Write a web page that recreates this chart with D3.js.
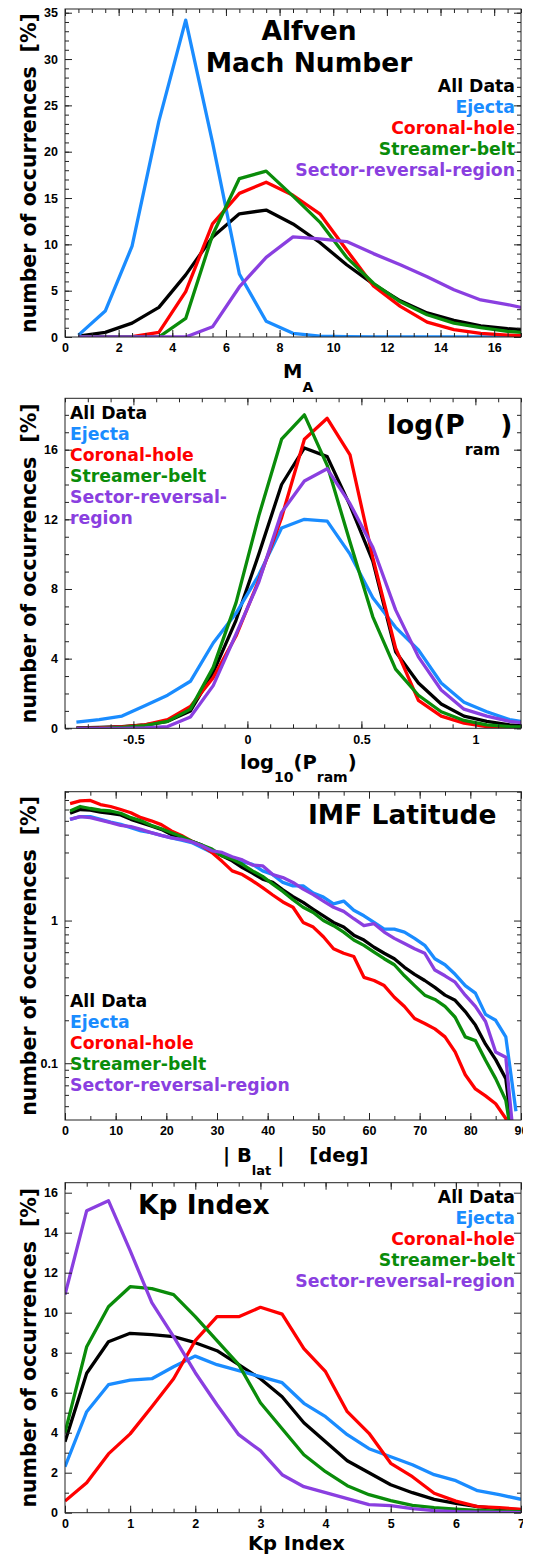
<!DOCTYPE html>
<html>
<head>
<meta charset="utf-8">
<script src="https://cdn.jsdelivr.net/npm/d3@7/dist/d3.min.js"></script>
<style>
  body { margin: 0; background: #fff; }
  svg { display: block; }
</style>
</head>
<body>
<svg id="chart" width="537" height="1558"></svg>
<script>
// ---- series shared by all four panels ----
const seriesNames  = ["All Data", "Ejecta", "Coronal-hole", "Streamer-belt", "Sector-reversal-region"];
const seriesColors = ["#000000", "#1a8cff", "#ff0000", "#0a8c0a", "#8a3fe0"];

// ---- Alfven Mach number distribution [%] ----
const machBins     = [0.5, 1.5, 2.5, 3.5, 4.5, 5.5, 6.5, 7.5, 8.5, 9.5, 10.5, 11.5, 12.5, 13.5, 14.5, 15.5, 16.5, 17.5];
const machAll      = [0.1, 0.5, 1.5, 3.2, 6.7, 10.8, 13.3, 13.7, 12.2, 10.2, 7.8, 5.7, 3.9, 2.6, 1.8, 1.2, 0.9, 0.7];
const machEjecta   = [0.2, 2.8, 9.8, 23.3, 34.2, 21.0, 6.8, 1.7, 0.4, 0.1, 0.05, 0.02, 0.01, 0, 0, 0, 0, 0];
const machCoronal  = [0, 0, 0.03, 0.5, 4.9, 12.2, 15.5, 16.7, 15.3, 13.3, 9.4, 5.5, 3.3, 1.6, 0.8, 0.4, 0.2, 0.1];
const machStreamer = [0, 0, 0, 0, 2.0, 11.0, 17.1, 17.9, 15.2, 12.4, 8.6, 5.8, 3.8, 2.4, 1.5, 1.0, 0.6, 0.4];
const machSector   = [0, 0, 0, 0, 0, 1.1, 5.4, 8.6, 10.8, 10.6, 10.3, 9.0, 7.8, 6.5, 5.1, 4.0, 3.5, 2.9];
const machXTicks   = [0, 2, 4, 6, 8, 10, 12, 14, 16];
const machYTicks   = [0, 5, 10, 15, 20, 25, 30, 35];

// ---- log10 of ram pressure distribution [%] ----
const pramBins     = [-0.75, -0.65, -0.55, -0.45, -0.35, -0.25, -0.15, -0.05, 0.05, 0.15, 0.25, 0.35, 0.45, 0.55, 0.65, 0.75, 0.85, 0.95, 1.05, 1.15, 1.25];
const pramAll      = [0.02, 0.05, 0.1, 0.2, 0.4, 1.0, 3.2, 6.2, 10.0, 14.0, 16.1, 15.6, 12.8, 9.6, 4.4, 2.6, 1.4, 0.7, 0.4, 0.2, 0.1];
const pramEjecta   = [0.35, 0.5, 0.7, 1.3, 1.9, 2.7, 4.9, 6.6, 8.8, 11.5, 12.0, 11.9, 10.0, 7.5, 5.8, 4.5, 2.6, 1.5, 0.95, 0.5, 0.3];
const pramCoronal  = [0, 0.02, 0.08, 0.2, 0.5, 1.25, 2.9, 5.3, 8.5, 12.1, 16.6, 17.8, 15.7, 9.8, 4.6, 1.6, 0.7, 0.3, 0.1, 0.05, 0.02];
const pramStreamer = [0, 0, 0.05, 0.15, 0.4, 1.1, 3.5, 7.2, 12.2, 16.6, 18.0, 15.1, 10.7, 6.4, 3.4, 1.9, 0.95, 0.45, 0.2, 0.1, 0.05];
const pramSector   = [0, 0, 0, 0.03, 0.1, 0.65, 2.45, 5.4, 8.4, 12.4, 14.2, 14.9, 12.9, 10.4, 6.8, 4.1, 2.2, 1.1, 0.7, 0.4, 0.25];
const pramXTicks   = [-0.5, 0, 0.5, 1];
const pramXLabels  = ["-0.5", "0", "0.5", "1"];
const pramYTicks   = [0, 4, 8, 12, 16];

// ---- |IMF latitude| distribution [%], 2-degree bins ----
const latBins     = [1, 3, 5, 7, 9, 11, 13, 15, 17, 19, 21, 23, 25, 27, 29, 31, 33, 35, 37, 39, 41, 43, 45, 47, 49, 51, 53, 55, 57, 59, 61, 63, 65, 67, 69, 71, 73, 75, 77, 79, 81, 83, 85, 87, 89];
const latAll      = [5.65, 6.0, 5.95, 5.75, 5.65, 5.5, 5.12, 4.85, 4.6, 4.36, 4.0, 3.8, 3.6, 3.38, 3.08, 2.84, 2.62, 2.35, 2.15, 1.95,
                     1.85, 1.64, 1.47, 1.34, 1.2, 1.08, 0.97, 0.9, 0.79, 0.73, 0.65, 0.59, 0.54, 0.47, 0.42, 0.38, 0.34, 0.30, 0.276, 0.23, 0.185, 0.136, 0.106, 0.078, 0.02];
const latEjecta   = [5.12, 5.35, 5.35, 5.12, 4.9, 4.72, 4.48, 4.25, 4.13, 3.95, 3.8, 3.66, 3.52, 3.25, 3.0, 2.92, 2.76, 2.58, 2.48, 2.23,
                     2.1, 1.85, 1.75, 1.75, 1.56, 1.46, 1.31, 1.37, 1.18, 1.08, 0.97, 0.87, 0.87, 0.83, 0.75, 0.67, 0.54, 0.49, 0.42, 0.35, 0.31, 0.22, 0.20, 0.153, 0.046];
const latCoronal  = [6.6, 6.9, 6.95, 6.5, 6.3, 6.0, 5.7, 5.26, 5.0, 4.7, 4.25, 3.95, 3.6, 3.34, 3.0, 2.6, 2.23, 2.1, 1.9, 1.7,
                     1.51, 1.35, 1.24, 0.97, 0.9, 0.77, 0.634, 0.59, 0.56, 0.40, 0.38, 0.35, 0.29, 0.25, 0.206, 0.19, 0.174, 0.153, 0.12, 0.083, 0.066, 0.059, 0.052, 0.041, 0.02];
const latStreamer = [5.86, 6.3, 6.1, 5.95, 5.86, 5.65, 5.26, 5.0, 4.65, 4.4, 4.13, 3.88, 3.6, 3.38, 3.17, 2.84, 2.69, 2.48, 2.23, 2.04,
                     1.8, 1.6, 1.4, 1.24, 1.14, 1.0, 0.92, 0.83, 0.73, 0.67, 0.60, 0.54, 0.49, 0.41, 0.35, 0.30, 0.28, 0.25, 0.21, 0.153, 0.144, 0.105, 0.078, 0.055, 0.02];
const latSector   = [5.12, 5.35, 5.26, 5.05, 4.85, 4.65, 4.55, 4.36, 4.13, 3.95, 3.8, 3.71, 3.56, 3.34, 3.08, 3.0, 2.8, 2.66, 2.45, 2.42,
                     2.1, 2.0, 1.85, 1.66, 1.52, 1.37, 1.24, 1.16, 1.03, 0.92, 0.95, 0.83, 0.75, 0.69, 0.634, 0.59, 0.45, 0.41, 0.37, 0.30, 0.25, 0.196, 0.12, 0.11, 0.02];
const latXTicks   = [0, 10, 20, 30, 40, 50, 60, 70, 80, 90];
const latYTicks   = [0.1, 1];
const latYLabels  = ["0.1", "1"];

// ---- Kp index distribution [%], steps of 1/3 ----
const kpBins     = [0, 0.333, 0.667, 1, 1.333, 1.667, 2, 2.333, 2.667, 3, 3.333, 3.667, 4, 4.333, 4.667, 5, 5.333, 5.667, 6, 6.333, 6.667, 7];
const kpAll      = [3.55, 6.97, 8.55, 8.97, 8.9, 8.8, 8.5, 8.1, 7.4, 6.7, 5.8, 4.5, 3.55, 2.6, 2.0, 1.4, 1.0, 0.67, 0.47, 0.3, 0.2, 0.15];
const kpEjecta   = [2.3, 5.05, 6.4, 6.63, 6.7, 7.3, 7.83, 7.4, 7.1, 6.8, 6.5, 5.47, 4.8, 3.9, 3.2, 2.8, 2.4, 1.9, 1.6, 1.1, 0.9, 0.67];
const kpCoronal  = [0.58, 1.5, 2.94, 3.94, 5.3, 6.7, 8.6, 9.8, 9.8, 10.27, 9.93, 8.2, 7.05, 5.05, 3.97, 2.47, 1.8, 0.97, 0.58, 0.3, 0.25, 0.17];
const kpStreamer = [4.0, 8.3, 10.3, 11.3, 11.2, 10.9, 9.8, 8.6, 7.4, 5.5, 4.2, 2.9, 2.05, 1.35, 0.9, 0.6, 0.37, 0.25, 0.18, 0.12, 0.08, 0.05];
const kpSector   = [10.9, 15.1, 15.6, 13.1, 10.5, 8.8, 7.0, 5.4, 3.9, 3.1, 1.9, 1.3, 1.0, 0.7, 0.4, 0.35, 0.2, 0.1, 0.05, 0.03, 0.02, 0];
const kpXTicks   = [0, 1, 2, 3, 4, 5, 6, 7];
const kpYTicks   = [0, 2, 4, 6, 8, 10, 12, 14, 16];

// ---- drawing ----
const TEXT_FONT = "'DejaVu Sans', Verdana, sans-serif";
const TICK_FONT = "'Liberation Sans', Arial, Helvetica, sans-serif";
const X0 = 65, X1 = 521;

const svg = d3.select("#chart");
const defs = svg.append("defs");
defs.append("clipPath").attr("id", "page-clip")
  .append("rect").attr("x", 0).attr("y", 0).attr("width", 523).attr("height", 1558);
const root = svg.append("g").attr("clip-path", "url(#page-clip)");

function styleAxis(sel) {
  sel.select(".domain").remove();
  sel.selectAll(".tick line").attr("stroke", "#222").attr("stroke-width", 1);
  sel.selectAll(".tick text")
    .attr("font-family", TICK_FONT).attr("font-weight", "bold")
    .attr("font-size", 12.5).attr("fill", "#000");
}

function drawPanel(p) {
  const g = root.append("g");
  const x = p.x, y = p.y;
  const top = y.range()[1], bottom = y.range()[0];

  defs.append("clipPath").attr("id", "clip-" + p.id)
    .append("rect").attr("x", X0).attr("y", top).attr("width", X1 - X0).attr("height", bottom - top);

  // distribution curves
  const line = d3.line().x((d, i) => x(p.bins[i])).y(d => y(d));
  g.append("g").attr("clip-path", "url(#clip-" + p.id + ")")
    .selectAll("path").data(p.series).join("path")
    .attr("d", d => line(d))
    .attr("fill", "none")
    .attr("stroke", (d, i) => seriesColors[i])
    .attr("stroke-width", 3.3)
    .attr("stroke-linejoin", "round");

  // inward ticks on all four sides
  const fmtX = p.xLabels ? (d, i) => p.xLabels[i] : d3.format("d");
  const fmtY = p.yLabels ? (d, i) => p.yLabels[i] : d3.format("d");
  g.append("g").attr("transform", `translate(0,${bottom})`)
    .call(d3.axisBottom(x).tickValues(p.xMinor).tickSize(-4).tickFormat("")).call(styleAxis);
  g.append("g").attr("transform", `translate(0,${bottom})`)
    .call(d3.axisBottom(x).tickValues(p.xTicks).tickSize(-7).tickPadding(6.5).tickFormat(fmtX)).call(styleAxis);
  g.append("g").attr("transform", `translate(0,${top})`)
    .call(d3.axisTop(x).tickValues(p.xMinor).tickSize(-4).tickFormat("")).call(styleAxis);
  g.append("g").attr("transform", `translate(0,${top})`)
    .call(d3.axisTop(x).tickValues(p.xTicks).tickSize(-7).tickFormat("")).call(styleAxis);
  g.append("g").attr("transform", `translate(${X0},0)`)
    .call(d3.axisLeft(y).tickValues(p.yMinor).tickSize(-4).tickFormat("")).call(styleAxis);
  g.append("g").attr("transform", `translate(${X0},0)`)
    .call(d3.axisLeft(y).tickValues(p.yTicks).tickSize(-7).tickPadding(7).tickFormat(fmtY)).call(styleAxis);
  g.append("g").attr("transform", `translate(${X1},0)`)
    .call(d3.axisRight(y).tickValues(p.yMinor).tickSize(-4).tickFormat("")).call(styleAxis);
  g.append("g").attr("transform", `translate(${X1},0)`)
    .call(d3.axisRight(y).tickValues(p.yTicks).tickSize(-7).tickFormat("")).call(styleAxis);

  // frame
  g.append("rect").attr("x", X0).attr("y", top).attr("width", X1 - X0).attr("height", bottom - top)
    .attr("fill", "none").attr("stroke", "#222").attr("stroke-width", 1);

  // y-axis label
  const yl = g.append("text")
    .attr("transform", `translate(35.5,${(top + bottom) / 2}) rotate(-90)`)
    .attr("text-anchor", "middle")
    .attr("font-family", TEXT_FONT).attr("font-weight", "bold").attr("font-size", 20.5).attr("fill", "#000");
  yl.append("tspan").text("number of occurrences");
  yl.append("tspan").attr("dx", 14).text("[%]");

  // legend
  const lg = g.append("g").attr("font-family", TEXT_FONT).attr("font-weight", "bold").attr("font-size", 17.3);
  p.legendLines.forEach((entry, k) => {
    lg.append("text")
      .attr("x", p.legendX).attr("y", p.legendY + k * 21)
      .attr("text-anchor", p.legendAnchor)
      .attr("fill", seriesColors[entry.c])
      .text(entry.t);
  });

  p.decorate(g, top, bottom);
}

function sub(textSel, main, subscript, mainSize, subSize, drop) {
  textSel.append("tspan").attr("font-size", mainSize).text(main);
  textSel.append("tspan").attr("font-size", subSize).attr("dy", drop).text(subscript);
}

const standardLegend = seriesNames.map((t, c) => ({ t, c }));

// Panel 1: Alfven Mach number
drawPanel({
  id: "mach",
  x: d3.scaleLinear().domain([0, 17]).range([X0, X1]),
  y: d3.scaleLinear().domain([0, 35.4]).range([337, 9]),
  bins: machBins,
  series: [machAll, machEjecta, machCoronal, machStreamer, machSector],
  xTicks: machXTicks, xMinor: d3.range(0, 17.01, 0.5),
  yTicks: machYTicks, yMinor: d3.range(0, 35.01, 1),
  legendLines: standardLegend, legendX: 515, legendY: 92, legendAnchor: "end",
  decorate(g, top, bottom) {
    const t = g.append("g").attr("font-family", TEXT_FONT).attr("font-weight", "bold")
      .attr("font-size", 26.5).attr("text-anchor", "middle").attr("fill", "#000");
    t.append("text").attr("x", 309).attr("y", 40).text("Alfven");
    t.append("text").attr("x", 309).attr("y", 71.5).text("Mach Number");
    const xt = g.append("text").attr("x", 283).attr("y", bottom + 41)
      .attr("font-family", TEXT_FONT).attr("font-weight", "bold").attr("fill", "#000");
    sub(xt, "M", "A", 19.5, 14, 14);
  }
});

// Panel 2: ram pressure
drawPanel({
  id: "pram",
  x: d3.scaleLinear().domain([-0.8, 1.2]).range([X0, X1]),
  y: d3.scaleLinear().domain([0, 18.95]).range([728.3, 398.3]),
  bins: pramBins,
  series: [pramAll, pramEjecta, pramCoronal, pramStreamer, pramSector],
  xTicks: pramXTicks, xLabels: pramXLabels, xMinor: d3.range(-0.8, 1.201, 0.1),
  yTicks: pramYTicks, yMinor: d3.range(0, 18.01, 1),
  legendLines: [
    { t: "All Data", c: 0 }, { t: "Ejecta", c: 1 }, { t: "Coronal-hole", c: 2 },
    { t: "Streamer-belt", c: 3 }, { t: "Sector-reversal-", c: 4 }, { t: "region", c: 4 }
  ],
  legendX: 70, legendY: 418.5, legendAnchor: "start",
  decorate(g, top, bottom) {
    const t = g.append("text").attr("x", 387).attr("y", 433.5)
      .attr("font-family", TEXT_FONT).attr("font-weight", "bold").attr("fill", "#000");
    t.append("tspan").attr("font-size", 26.5).text("log(P");
    t.append("tspan").attr("font-size", 16).attr("dy", 21).text("ram");
    t.append("tspan").attr("font-size", 26.5).attr("dy", -21).text(")");
    const xt = g.append("text").attr("x", 240).attr("y", bottom + 41)
      .attr("font-family", TEXT_FONT).attr("font-weight", "bold").attr("fill", "#000");
    xt.append("tspan").attr("font-size", 19.5).text("log");
    xt.append("tspan").attr("font-size", 14).attr("dy", 13).text("10");
    xt.append("tspan").attr("font-size", 19.5).attr("dy", -13).text("(P");
    xt.append("tspan").attr("font-size", 14).attr("dy", 13).text("ram");
    xt.append("tspan").attr("font-size", 19.5).attr("dy", -13).text(")");
  }
});

// Panel 3: IMF latitude (log scale)
drawPanel({
  id: "lat",
  x: d3.scaleLinear().domain([0, 90]).range([X0, X1]),
  y: d3.scaleLog().domain([0.04, 8]).range([1120, 791.7]),
  bins: latBins,
  series: [latAll, latEjecta, latCoronal, latStreamer, latSector],
  xTicks: latXTicks, xMinor: d3.range(0, 90.01, 5),
  yTicks: latYTicks, yLabels: latYLabels,
  yMinor: [0.05, 0.06, 0.07, 0.08, 0.09, 0.2, 0.3, 0.4, 0.5, 0.6, 0.7, 0.8, 0.9, 2, 3, 4, 5, 6, 7, 8],
  legendLines: standardLegend, legendX: 70, legendY: 1007, legendAnchor: "start",
  decorate(g, top, bottom) {
    g.append("text").attr("x", 308).attr("y", 823.5)
      .attr("font-family", TEXT_FONT).attr("font-weight", "bold").attr("font-size", 26.5)
      .attr("fill", "#000").text("IMF Latitude");
    const xt = g.append("text").attr("x", 223).attr("y", bottom + 41.5)
      .attr("font-family", TEXT_FONT).attr("font-weight", "bold").attr("fill", "#000");
    xt.append("tspan").attr("font-size", 19.5).text("| B");
    xt.append("tspan").attr("font-size", 13).attr("dy", 13).text("lat");
    xt.append("tspan").attr("font-size", 19.5).attr("dy", -13).attr("dx", 6).text("|");
    xt.append("tspan").attr("font-size", 19.5).attr("dx", 25).text("[deg]");
  }
});

// Panel 4: Kp index
drawPanel({
  id: "kp",
  x: d3.scaleLinear().domain([0, 7]).range([X0, X1]),
  y: d3.scaleLinear().domain([0, 16.5]).range([1512.7, 1182.7]),
  bins: kpBins,
  series: [kpAll, kpEjecta, kpCoronal, kpStreamer, kpSector],
  xTicks: kpXTicks, xMinor: d3.range(0, 21.01, 1).map(k => k / 3),
  yTicks: kpYTicks, yMinor: d3.range(1, 16, 2),
  legendLines: standardLegend, legendX: 515, legendY: 1202.5, legendAnchor: "end",
  decorate(g, top, bottom) {
    g.append("text").attr("x", 138).attr("y", 1213.5)
      .attr("font-family", TEXT_FONT).attr("font-weight", "bold").attr("font-size", 26.5)
      .attr("fill", "#000").text("Kp Index");
    g.append("text").attr("x", 248).attr("y", bottom + 37)
      .attr("font-family", TEXT_FONT).attr("font-weight", "bold").attr("font-size", 19.5)
      .attr("fill", "#000").text("Kp Index");
  }
});
</script>
</body>
</html>
